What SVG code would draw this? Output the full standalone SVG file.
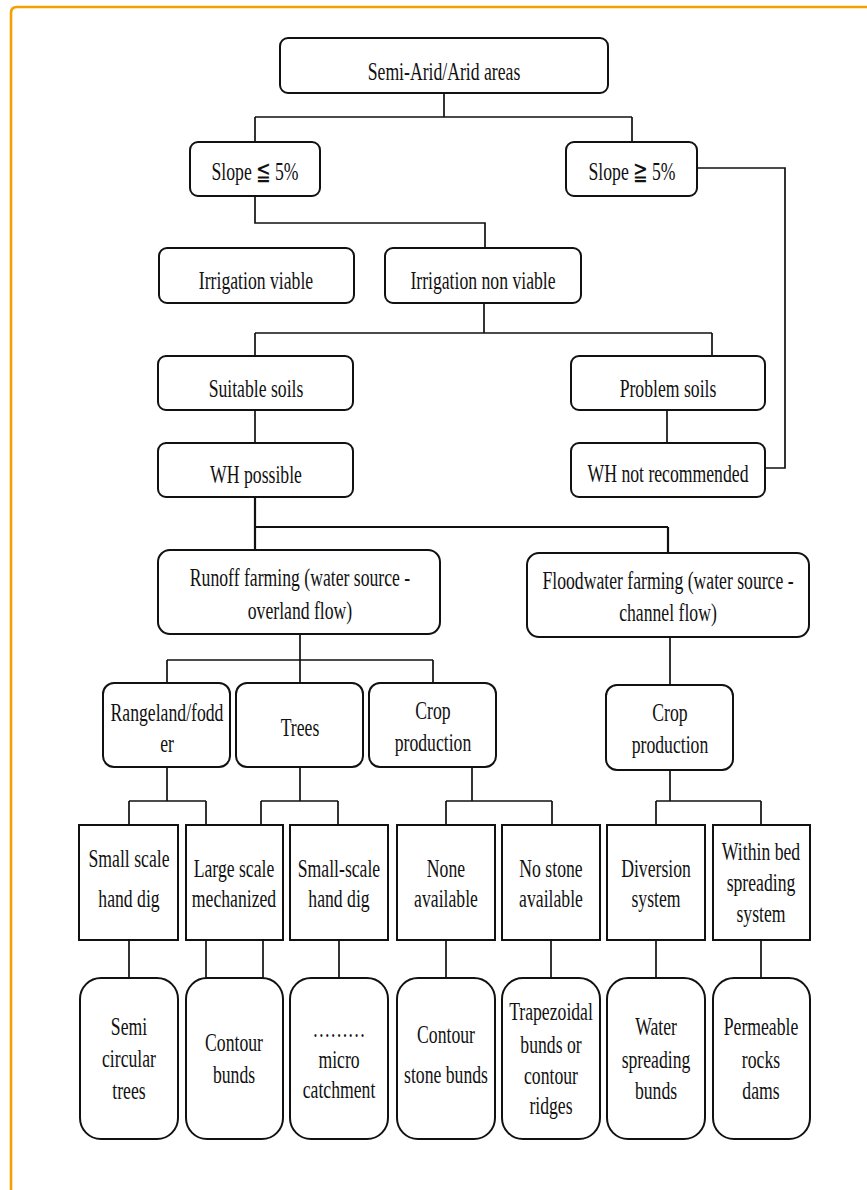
<svg xmlns="http://www.w3.org/2000/svg" width="867" height="1190" viewBox="0 0 867 1190">
<style>
.bx{fill:#fff;stroke:#111;stroke-width:2}
.ln{fill:none;stroke:#111;stroke-width:1.7}
.t{font-family:"Liberation Serif","Times New Roman",Times,"DejaVu Serif",serif;font-size:26px;fill:#111;text-anchor:middle}
</style>
<rect width="867" height="1190" fill="#fff"/>
<path d="M11 1192 V13 Q11 7 17 7 H869" fill="none" stroke="#F5A000" stroke-width="2.6"/>
<g id="connectors" class="ln">
<path d="M444 93 V117 M255 117 H632 M255 117 V142 M632 117 V142"/>
<path d="M697 168 H785 V468 H765"/>
<path d="M255 196 V223 H485 V248"/>
<path d="M484 303 V333 M255 333 H712 M255 333 V356 M712 333 V356"/>
<path d="M255 410 V443"/>
<path d="M667 410 V443"/>
<path d="M255 497 V527 M255 527 H668 M255 527 V550 M668 527 V553" stroke-width="2.2"/>
<path d="M300 634 V660 M167 660 H433 M167 660 V683 M300 660 V683 M433 660 V683"/>
<path d="M670 637 V685"/>
<path d="M167 767 V801 M129 801 H206 M129 801 V825 M206 801 V825"/>
<path d="M300 767 V801 M261 801 H338 M261 801 V825 M338 801 V825"/>
<path d="M472 767 V801 M446 801 H552 M446 801 V825 M552 801 V825"/>
<path d="M670 770 V801 M656 801 H761 M656 801 V825 M761 801 V825"/>
<path d="M129 940 V978 M206 940 V978 M263 940 V978 M339 940 V978 M446 940 V978 M551 940 V978 M656 940 V978 M761 940 V978"/>
</g>
<g id="n-top"><rect class="bx" x="280" y="38" width="328" height="55" rx="8"/><text class="t" transform="translate(444 0) scale(0.68 1)"><tspan x="0" y="80">Semi-Arid/Arid areas</tspan></text></g>
<g id="n-slope-le"><rect class="bx" x="190" y="142" width="130" height="54" rx="8"/><text class="t" transform="translate(255 0) scale(0.68 1)"><tspan x="0" y="180">Slope ≦ 5%</tspan></text></g>
<g id="n-slope-ge"><rect class="bx" x="566" y="142" width="131" height="54" rx="8"/><text class="t" transform="translate(632 0) scale(0.68 1)"><tspan x="0" y="180">Slope ≧ 5%</tspan></text></g>
<g id="n-irr-v"><rect class="bx" x="159" y="248" width="195" height="55" rx="8"/><text class="t" transform="translate(256 0) scale(0.68 1)"><tspan x="0" y="289">Irrigation viable</tspan></text></g>
<g id="n-irr-nv"><rect class="bx" x="385" y="248" width="196" height="55" rx="8"/><text class="t" transform="translate(483 0) scale(0.68 1)"><tspan x="0" y="289">Irrigation non viable</tspan></text></g>
<g id="n-suitable"><rect class="bx" x="158" y="356" width="195" height="54" rx="8"/><text class="t" transform="translate(256 0) scale(0.68 1)"><tspan x="0" y="397">Suitable soils</tspan></text></g>
<g id="n-problem"><rect class="bx" x="571" y="356" width="194" height="54" rx="8"/><text class="t" transform="translate(668 0) scale(0.68 1)"><tspan x="0" y="397">Problem soils</tspan></text></g>
<g id="n-wh-pos"><rect class="bx" x="158" y="443" width="195" height="54" rx="8"/><text class="t" transform="translate(256 0) scale(0.68 1)"><tspan x="0" y="483">WH possible</tspan></text></g>
<g id="n-wh-not"><rect class="bx" x="571" y="443" width="194" height="54" rx="8"/><text class="t" transform="translate(668 0) scale(0.68 1)"><tspan x="0" y="482">WH not recommended</tspan></text></g>
<g id="n-runoff"><rect class="bx" x="158" y="550" width="282" height="84" rx="12"/><text class="t" transform="translate(300 0) scale(0.68 1)"><tspan x="0" y="586">Runoff farming (water source -</tspan><tspan x="0" y="619">overland flow)</tspan></text></g>
<g id="n-flood"><rect class="bx" x="527" y="553" width="282" height="84" rx="12"/><text class="t" transform="translate(668 0) scale(0.68 1)"><tspan x="0" y="589">Floodwater farming (water source -</tspan><tspan x="0" y="621">channel flow)</tspan></text></g>
<g id="n-range"><rect class="bx" x="103" y="683" width="127" height="84" rx="11"/><text class="t" transform="translate(167 0) scale(0.68 1)"><tspan x="0" y="721">Rangeland/fodd</tspan><tspan x="0" y="752">er</tspan></text></g>
<g id="n-trees"><rect class="bx" x="236" y="683" width="127" height="84" rx="11"/><text class="t" transform="translate(300 0) scale(0.68 1)"><tspan x="0" y="736">Trees</tspan></text></g>
<g id="n-crop1"><rect class="bx" x="369" y="683" width="127" height="84" rx="11"/><text class="t" transform="translate(433 0) scale(0.68 1)"><tspan x="0" y="719">Crop</tspan><tspan x="0" y="751">production</tspan></text></g>
<g id="n-crop2"><rect class="bx" x="606" y="685" width="127" height="85" rx="11"/><text class="t" transform="translate(670 0) scale(0.68 1)"><tspan x="0" y="721">Crop</tspan><tspan x="0" y="753">production</tspan></text></g>
<g id="n-ss-hand"><rect class="bx" x="79" y="825" width="99" height="115"/><text class="t" transform="translate(129 0) scale(0.68 1)"><tspan x="0" y="867">Small scale</tspan><tspan x="0" y="907">hand dig</tspan></text></g>
<g id="n-ls-mech"><rect class="bx" x="186" y="825" width="97" height="115"/><text class="t" transform="translate(234 0) scale(0.68 1)"><tspan x="0" y="877">Large scale</tspan><tspan x="0" y="907">mechanized</tspan></text></g>
<g id="n-ss-hand2"><rect class="bx" x="290" y="825" width="98" height="115"/><text class="t" transform="translate(339 0) scale(0.68 1)"><tspan x="0" y="877">Small-scale</tspan><tspan x="0" y="907">hand dig</tspan></text></g>
<g id="n-none"><rect class="bx" x="397" y="825" width="98" height="115"/><text class="t" transform="translate(446 0) scale(0.68 1)"><tspan x="0" y="877">None</tspan><tspan x="0" y="907">available</tspan></text></g>
<g id="n-nostone"><rect class="bx" x="502" y="825" width="98" height="115"/><text class="t" transform="translate(551 0) scale(0.68 1)"><tspan x="0" y="877">No stone</tspan><tspan x="0" y="907">available</tspan></text></g>
<g id="n-diversion"><rect class="bx" x="607" y="825" width="98" height="115"/><text class="t" transform="translate(656 0) scale(0.68 1)"><tspan x="0" y="877">Diversion</tspan><tspan x="0" y="907">system</tspan></text></g>
<g id="n-withinbed"><rect class="bx" x="713" y="825" width="97" height="115"/><text class="t" transform="translate(761 0) scale(0.68 1)"><tspan x="0" y="860">Within bed</tspan><tspan x="0" y="891">spreading</tspan><tspan x="0" y="922">system</tspan></text></g>
<g id="n-semicirc"><rect class="bx" x="80" y="978" width="98" height="161" rx="21"/><text class="t" transform="translate(129 0) scale(0.68 1)"><tspan x="0" y="1035">Semi</tspan><tspan x="0" y="1067">circular</tspan><tspan x="0" y="1099">trees</tspan></text></g>
<g id="n-contour"><rect class="bx" x="186" y="978" width="97" height="161" rx="21"/><text class="t" transform="translate(234 0) scale(0.68 1)"><tspan x="0" y="1051">Contour</tspan><tspan x="0" y="1083">bunds</tspan></text></g>
<g id="n-micro"><rect class="bx" x="290" y="978" width="98" height="161" rx="21"/><text class="t" transform="translate(339 0) scale(0.68 1)"><tspan x="0" y="1037">………</tspan><tspan x="0" y="1068">micro</tspan><tspan x="0" y="1098">catchment</tspan></text></g>
<g id="n-stonebunds"><rect class="bx" x="397" y="978" width="98" height="161" rx="21"/><text class="t" transform="translate(446 0) scale(0.68 1)"><tspan x="0" y="1043">Contour</tspan><tspan x="0" y="1083">stone bunds</tspan></text></g>
<g id="n-trap"><rect class="bx" x="502" y="978" width="98" height="161" rx="21"/><text class="t" transform="translate(551 0) scale(0.68 1)"><tspan x="0" y="1020">Trapezoidal</tspan><tspan x="0" y="1053">bunds or</tspan><tspan x="0" y="1084">contour</tspan><tspan x="0" y="1114">ridges</tspan></text></g>
<g id="n-waterspread"><rect class="bx" x="607" y="978" width="98" height="161" rx="21"/><text class="t" transform="translate(656 0) scale(0.68 1)"><tspan x="0" y="1035">Water</tspan><tspan x="0" y="1068">spreading</tspan><tspan x="0" y="1099">bunds</tspan></text></g>
<g id="n-permeable"><rect class="bx" x="713" y="978" width="97" height="161" rx="21"/><text class="t" transform="translate(761 0) scale(0.68 1)"><tspan x="0" y="1035">Permeable</tspan><tspan x="0" y="1068">rocks</tspan><tspan x="0" y="1099">dams</tspan></text></g>
</svg>
